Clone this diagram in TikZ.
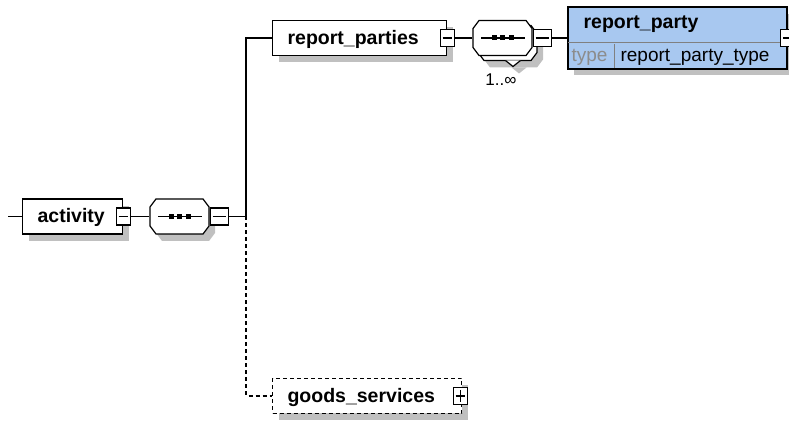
\documentclass[tikz,border=0pt]{standalone}
\usepackage{fontspec}
\setmainfont{Liberation Sans}
\usepackage{tikz}
\usetikzlibrary{shapes,shadows}
\definecolor{partyblue}{RGB}{168,200,240}
\definecolor{shadowgray}{RGB}{192,192,192}
\definecolor{typegray}{RGB}{140,140,140}
\definecolor{divgray}{RGB}{128,128,128}
\newcommand{\octagon}[2][]{%
  \draw[#1] ([shift={(-23.5bp,17.5bp)}]#2) -- ++(47bp,0) -- ++(6bp,-8bp) -- ++(0,-19bp)
    -- ++(-6bp,-8bp) -- ++(-47bp,0) -- ++(-6bp,8bp) -- ++(0,19bp) -- cycle;}
\newcommand{\seqdots}[1]{%
  \draw ([xshift=-21.5bp]#1.center) -- ([xshift=22.5bp]#1.center);
  \foreach \dx in {-8.5bp,0bp,8.5bp}
    \fill ([xshift=\dx]#1.center) +(-2.5bp,-2.5bp) rectangle +(2.5bp,2.5bp);}
\newcommand{\minus}[1]{\draw ([xshift=3bp]#1.west) -- ([xshift=-3bp]#1.east);}

\begin{document}
\begin{tikzpicture}[line width=1.2bp]
      \tikzstyle{every node}=[font=\fontsize{19bp}{22bp}\selectfont]
      \tikzstyle{dropsh}=[drop shadow={shadow xshift=6bp, shadow yshift=-7bp, opacity=1, fill=shadowgray}]
      \tikzstyle{elem}=[draw, fill=white, dropsh, anchor=west, minimum height=35bp, inner xsep=15bp,
        text height=13bp, text depth=0bp, align=left, font=\fontsize{19.5bp}{24bp}\selectfont\bfseries]
      \tikzstyle{seqbox}=[minimum width=59bp, minimum height=35bp, inner sep=0pt]
      \tikzstyle{tgl}=[draw, fill=white, minimum width=14bp, minimum height=17bp, inner sep=0pt]
      \tikzstyle{dashline}=[line width=1.1bp, dash pattern=on 4bp off 3bp]
      \useasboundingbox (0bp,0bp) rectangle (789bp,421bp);
      %%
  \coordinate (in_act) at (8bp,204.5bp);
  \node (act) at (22bp,204.5bp) [elem, text width=70bp] {activity};
  \node (seq1) at (179.5bp,204.5bp) [seqbox] {};
  \coordinate (br) at (246bp,204.5bp);
  \node (rps) at (272bp,383bp) [elem, text width=144bp] {report\_parties};
  \node (seq2) at (502.5bp,383bp) [seqbox] {};
  \coordinate (seq2b) at ([shift={(5bp,-5bp)}]seq2.center);
  \node (gs) at (272bp,25bp) [elem, text width=159bp, dashline] {goods\_services};
  \node (rp) at (677.5bp,383bp) [draw, fill=partyblue, dropsh, minimum width=219bp, minimum height=61bp, inner sep=0pt] {};
  %% sequences
  \octagon[fill=white, dropsh]{seq1.center}
  \seqdots{seq1}
  \octagon[fill=white, dropsh]{seq2b}
  \draw [fill=white, dropsh] ([shift={(-2bp,-17.5bp)}]seq2b) -- ++(7.5bp,-6bp) -- ++(7.5bp,6bp);
  \octagon[fill=white]{seq2.center}
  \seqdots{seq2}
  \node (mult) at (501bp,341bp) [font=\fontsize{17bp}{20bp}\selectfont] {1..∞};
  %% report_party table
  \draw [divgray] ([yshift=-36bp]rp.north west) -- ([yshift=-36bp]rp.north east);
  \draw [divgray] ([xshift=47bp]rp.south west) -- ([xshift=47bp,yshift=25bp]rp.south west);
  \draw (rp.north west) rectangle (rp.south east);
  \node (rp_name) at (583bp,392bp) [anchor=base west, inner sep=0pt, font=\fontsize{19.5bp}{24bp}\selectfont\bfseries] {report\_party};
  \node (rp_tlab) at (571bp,359bp) [anchor=base west, inner sep=0pt, text=typegray] {type};
  \node (rp_type) at (620bp,359bp) [anchor=base west, inner sep=0pt] {report\_party\_type};
  %% toggles
  \node (act_m) at (act.east) [tgl] {};
  \minus{act_m}
  \node (seq1_m) at (seq1.east) [tgl, anchor=west, minimum width=18bp] {};
  \minus{seq1_m}
  \node (rps_m) at (rps.east) [tgl] {};
  \minus{rps_m}
  \node (seq2_m) at (seq2.east) [tgl, anchor=west, minimum width=18bp] {};
  \minus{seq2_m}
  \node (rp_m) at (rp.east) [tgl] {};
  \minus{rp_m}
  \node (gs_p) at ([xshift=-2bp]gs.east) [tgl] {};
  \minus{gs_p}
  \draw ([yshift=-3bp]gs_p.north) -- ([yshift=3bp]gs_p.south);
  %% connectors
  \draw (in_act) -- (act);
  \draw (act_m) -- (seq1);
  \draw (seq1_m) -- (br);
  \draw (br) |- (rps);
  \draw [dashline] (br) |- (gs);
  \draw (rps_m) -- (seq2);
  \draw (seq2_m) -- (rp);
%
\end{tikzpicture}
\end{document}
